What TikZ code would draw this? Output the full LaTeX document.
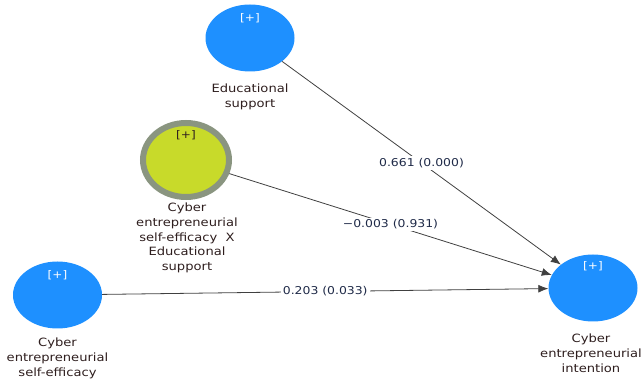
\documentclass[tikz,border=0pt]{standalone}
\usepackage{fontspec}
\setmainfont{DejaVu Sans}[FakeStretch=1.15]
\usetikzlibrary{shapes.geometric,arrows.meta}
\definecolor{nodeblue}{HTML}{1E90FF}
\definecolor{modfill}{HTML}{C8DA2A}
\definecolor{modring}{HTML}{8A9580}
\definecolor{lbltext}{HTML}{2E1E1E}
\definecolor{pathtext}{HTML}{1F2A48}
\definecolor{linegray}{HTML}{404040}
\begin{document}
\begin{tikzpicture}[x=1pt,y=-1pt,
  lv/.style={ellipse, fill=nodeblue, draw=none, inner sep=0pt, minimum width=89pt, minimum height=67pt},
  modnode/.style={ellipse, fill=modfill, draw=modring, line width=6pt, inner sep=0pt, minimum width=86pt, minimum height=74pt},
  plus/.style={font=\fontsize{10.5}{12}\selectfont, text=white, inner sep=0pt},
  lbl/.style={font=\fontsize{11.4}{14.6}\selectfont, text=lbltext, align=center, anchor=north, inner sep=0pt},
  conn/.style={draw=linegray, line width=0.8pt, -{Latex[length=10pt,width=8pt]}},
  coef/.style={fill=white, text=pathtext, font=\fontsize{10.8}{12}\selectfont, inner sep=2pt}
]
\useasboundingbox (0,0) rectangle (643,379);
% latent variables
\node[lv] (edu) at (250,38) {};
\node[modnode] (mod) at (186,160) {};
\node[lv] (cse) at (57.5,295) {};
\node[lv] (cei) at (593,288) {};
% [+] markers
\node[plus] (eduplus) at (250,18) {[+]};
\node[plus, text=lbltext] (modplus) at (186,135) {[+]};
\node[plus] (cseplus) at (57.5,275) {[+]};
\node[plus] (ceiplus) at (593,266) {[+]};
% labels
\node[lbl] (edulbl) at (250,84) {Educational\\support};
\node[lbl] (modlbl) at (187,203) {Cyber\\entrepreneurial\\self-efficacy\ \ X\\Educational\\support};
\node[lbl] (cselbl) at (57.5,338) {Cyber\\entrepreneurial\\self-efficacy};
\node[lbl] (ceilbl) at (591,334) {Cyber\\entrepreneurial\\intention};
% connectors
\draw[conn] (edu) -- node[coef] (c1) {0.661 (0.000)} (cei);
\draw[conn] (mod) -- node[coef] (c2) {−0.003 (0.931)} (cei);
\draw[conn] (cse) -- node[coef] (c3) {0.203 (0.033)} (cei);
\end{tikzpicture}
\end{document}
